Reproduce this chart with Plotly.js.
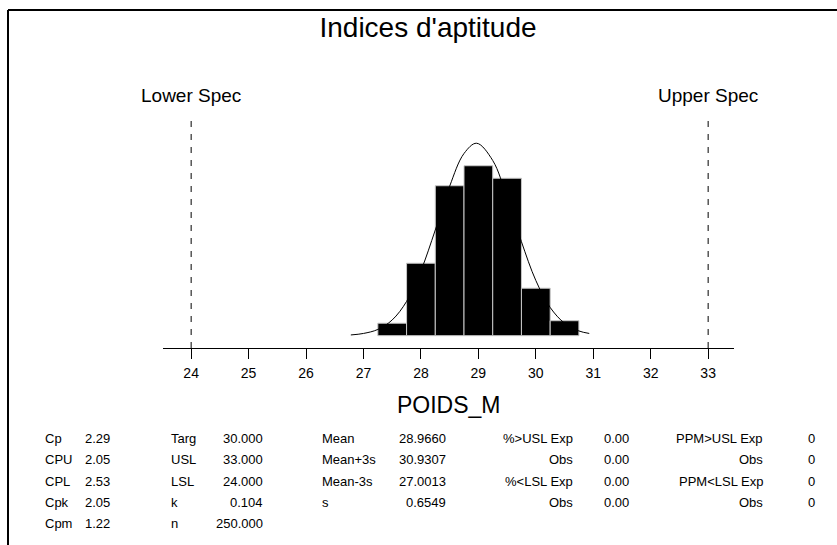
<!DOCTYPE html>
<html>
<head>
<meta charset="utf-8">
<script src="https://cdn.plot.ly/plotly-3.0.1.min.js"></script>
<style>
  html, body { margin: 0; padding: 0; background: #fff; }
  #chart { width: 837px; height: 545px; }
</style>
</head>
<body>
<div id="chart"></div>
<script>
// ---- Data ----
const binCenters = [27.5, 28.0, 28.5, 29.0, 29.5, 30.0, 30.5];
const binCounts  = [5, 29, 60, 68, 63, 19, 6];
const binWidth   = 0.5;

const curveX = [26.78, 27.0, 27.25, 27.5, 27.75, 28.0, 28.25, 28.5, 28.75, 28.97,
                29.25, 29.5, 29.75, 30.0, 30.25, 30.5, 30.75, 30.93];
const curveY = [0.3, 0.9, 2.5, 6.3, 13.7, 26.0, 42.3, 59.8, 72.9, 77.0,
                70.1, 55.2, 37.6, 22.1, 11.3, 5.0, 1.9, 0.9];

const lsl = 24, usl = 33;
const specNames = ['Lower Spec', 'Upper Spec'];
const tickVals = [24, 25, 26, 27, 28, 29, 30, 31, 32, 33];
const tickText = ['24', '25', '26', '27', '28', '29', '30', '31', '32', '33'];

const capLabels  = ['Cp', 'CPU', 'CPL', 'Cpk', 'Cpm'];
const capValues  = ['2.29', '2.05', '2.53', '2.05', '1.22'];
const specLabels = ['Targ', 'USL', 'LSL', 'k', 'n'];
const specValues = ['30.000', '33.000', '24.000', '0.104', '250.000'];
const statLabels = ['Mean', 'Mean+3s', 'Mean-3s', 's'];
const statValues = ['28.9660', '30.9307', '27.0013', '0.6549'];
const pctLabels  = ['%>USL Exp', 'Obs', '%<LSL Exp', 'Obs'];
const pctValues  = ['0.00', '0.00', '0.00', '0.00'];
const ppmLabels  = ['PPM>USL Exp', 'Obs', 'PPM<LSL Exp', 'Obs'];
const ppmValues  = ['0', '0', '0', '0'];

const titleText = "Indices d'aptitude";
const xTitle = 'POIDS_M';

// ---- Layout geometry (pixels) ----
const W = 837, H = 545;
const M = { l: 163, r: 103, t: 118, b: 197 };
const PW = W - M.l - M.r, PH = H - M.t - M.b;
const px = x => (x - M.l) / PW;
const py = y => (H - M.b - y) / PH;

const FONT = 'Arial, "Liberation Sans", sans-serif';

const traces = [
  {
    type: 'bar', x: binCenters, y: binCounts, width: binWidth,
    marker: { color: '#000', line: { color: '#c8c8c8', width: 1 } },
    hoverinfo: 'skip'
  },
  {
    type: 'scatter', mode: 'lines', x: curveX, y: curveY,
    line: { color: '#000', width: 1, shape: 'spline', smoothing: 1 },
    hoverinfo: 'skip'
  }
];

const annotations = [];
// spec labels
[lsl, usl].forEach((v, i) => {
  annotations.push({
    xref: 'x', yref: 'paper', x: v, y: 1, yshift: 23,
    xanchor: 'center', yanchor: 'middle', showarrow: false,
    text: specNames[i], font: { family: FONT, size: 19, color: '#000' }
  });
});
// axis title
annotations.push({
  xref: 'paper', yref: 'paper', x: 0.5, y: py(405),
  xanchor: 'center', yanchor: 'middle', showarrow: false,
  text: xTitle, font: { family: FONT, size: 23, color: '#000' }
});
// table
const rowY = [438, 459.5, 481, 502, 523.5];
function col(labels, xpos, anchor) {
  labels.forEach((t, i) => {
    annotations.push({
      xref: 'paper', yref: 'paper', x: px(xpos), y: py(rowY[i]),
      xanchor: anchor, yanchor: 'middle', showarrow: false,
      text: t, font: { family: FONT, size: 13, color: '#000' }
    });
  });
}
col(capLabels, 43, 'left');
col(capValues, 83, 'left');
col(specLabels, 169, 'left');
col(specValues, 265, 'right');
col(statLabels, 320, 'left');
col(statValues, 448, 'right');
col(pctLabels, 575, 'right');
col(pctValues, 631, 'right');
col(ppmLabels, 765, 'right');
col(ppmValues, 817, 'right');

const shapes = [
  // spec limit dashed lines
  { type: 'line', xref: 'x', yref: 'paper', x0: lsl, x1: lsl, y0: 0, y1: 1,
    line: { color: '#000', width: 1, dash: '6px,7px' } },
  { type: 'line', xref: 'x', yref: 'paper', x0: usl, x1: usl, y0: 0, y1: 1,
    line: { color: '#000', width: 1, dash: '6px,7px' } },
  // outer frame (top and left)
  { type: 'line', xref: 'paper', yref: 'paper', x0: px(8), x1: px(840), y0: py(10), y1: py(10),
    line: { color: '#000', width: 2 } },
  { type: 'line', xref: 'paper', yref: 'paper', x0: px(8), x1: px(8), y0: py(10), y1: py(548),
    line: { color: '#000', width: 2 } }
];

const layout = {
  width: W, height: H,
  margin: M,
  paper_bgcolor: '#fff', plot_bgcolor: '#fff',
  showlegend: false,
  bargap: 0,
  title: {
    text: titleText, x: 428 / W, xanchor: 'center', y: 1 - 27 / H, yanchor: 'middle',
    font: { family: FONT, size: 28, color: '#000' }
  },
  xaxis: {
    range: [23.51, 33.45], fixedrange: true,
    showgrid: false, zeroline: false,
    showline: true, linecolor: '#000', linewidth: 1,
    ticks: 'outside', ticklen: 10, tickcolor: '#000', tickwidth: 1,
    ticklabelstandoff: 2,
    tickvals: tickVals, ticktext: tickText,
    tickfont: { family: FONT, size: 14, color: '#000' }
  },
  yaxis: {
    range: [-4.92, 87.1], fixedrange: true, visible: false
  },
  shapes: shapes,
  annotations: annotations,
  hovermode: false
};

Plotly.newPlot('chart', traces, layout, { displayModeBar: false, staticPlot: true });
</script>
</body>
</html>
